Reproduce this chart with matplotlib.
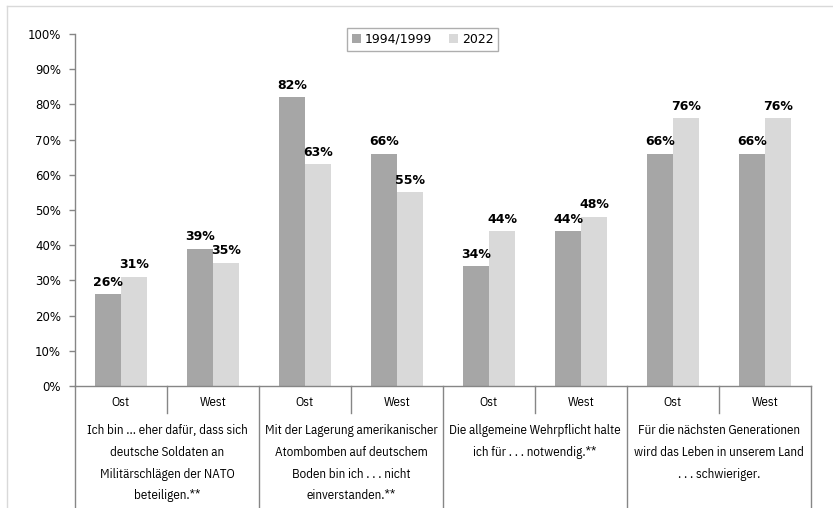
import matplotlib
matplotlib.use("Agg")
import matplotlib.pyplot as plt
import matplotlib.transforms as mtransforms
from matplotlib.lines import Line2D

# Survey results (share of respondents, %)
regions = ["Ost", "West", "Ost", "West", "Ost", "West", "Ost", "West"]
questions = [
    "Ich bin ... eher dafür, dass sich\ndeutsche Soldaten an\nMilitärschlägen der NATO\nbeteiligen.**",
    "Mit der Lagerung amerikanischer\nAtombomben auf deutschem\nBoden bin ich . . . nicht\neinverstanden.**",
    "Die allgemeine Wehrpflicht halte\nich für . . . notwendig.**",
    "Für die nächsten Generationen\nwird das Leben in unserem Land\n. . . schwieriger.",
]
series_names = ["1994/1999", "2022"]
values_old = [26, 39, 82, 66, 34, 44, 66, 66]
values_new = [31, 35, 63, 55, 44, 48, 76, 76]
y_ticks = [0, 10, 20, 30, 40, 50, 60, 70, 80, 90, 100]

DARK = "#a6a6a6"
LIGHT = "#d9d9d9"
AXIS = "#868686"
BORDER = "#d9d9d9"

W, H = 833, 508
fig = plt.figure(figsize=(W / 100, H / 100), dpi=100)
fig.patch.set_facecolor("white")

# Axes placement in pixels
left, right, top, bottom = 75, 811, 34, 386
ax = fig.add_axes([left / W, 1 - bottom / H, (right - left) / W, (bottom - top) / H])

n = len(regions)
x = list(range(n))
bw = 0.283
ax.bar([i - bw / 2 for i in x], values_old, width=bw, color=DARK, label=series_names[0], zorder=2)
ax.bar([i + bw / 2 for i in x], values_new, width=bw, color=LIGHT, label=series_names[1], zorder=2)

label_font = dict(family="DejaVu Sans", weight="bold", size=9, color="black")
for i, v in enumerate(values_old):
    ax.annotate(f"{v}%", (i - bw / 2, v), xytext=(0, 4), textcoords="offset points",
                ha="center", va="bottom", **label_font)
for i, v in enumerate(values_new):
    ax.annotate(f"{v}%", (i + bw / 2, v), xytext=(0, 4), textcoords="offset points",
                ha="center", va="bottom", **label_font)

ax.set_xlim(-0.5, n - 0.5)
ax.set_ylim(0, 100)
ax.set_yticks(y_ticks)
ax.set_yticklabels([f"{t}%" for t in y_ticks], family="DejaVu Sans", fontsize=8.5)
ax.tick_params(axis="y", length=4, color=AXIS, width=1, pad=6)
ax.set_xticks([])
for s in ["top", "right"]:
    ax.spines[s].set_visible(False)
for s in ["left", "bottom"]:
    ax.spines[s].set_color(AXIS)
    ax.spines[s].set_linewidth(1)

# Multi-level category axis below the plot
trans = mtransforms.blended_transform_factory(ax.transData, fig.transFigure)
y_axis = 1 - bottom / H
y_sub = 1 - 413 / H
for k in range(len(questions) + 1):
    xb = 2 * k - 0.5
    fig.add_artist(Line2D([xb, xb], [y_axis, 0], transform=trans, color=AXIS, lw=1))
for k in range(len(questions)):
    xs = 2 * k + 0.5
    fig.add_artist(Line2D([xs, xs], [y_axis, y_sub], transform=trans, color=AXIS, lw=1))

cat_font = dict(family=["IBM Plex Sans Condensed", "DejaVu Sans"], weight="normal",
                size=9.4, color="black")
for i, r in enumerate(regions):
    fig.text(i, 1 - 403 / H, r, transform=trans, ha="center", va="center", **cat_font)
for k, q in enumerate(questions):
    fig.text(2 * k + 0.5, 1 - 424 / H, q, transform=trans, ha="center", va="top",
             linespacing=1.88, **cat_font)

# Legend
leg = ax.legend(loc="upper left", bbox_to_anchor=((347 - left) / (right - left), (bottom - 28) / (bottom - top)),
                borderaxespad=0, ncol=2, frameon=True, fancybox=False, handlelength=0.7,
                handleheight=0.7, handletextpad=0.3, columnspacing=1.4, borderpad=0.4,
                prop=dict(family="DejaVu Sans", size=9))
leg.get_frame().set_edgecolor("#9a9a9a")
leg.get_frame().set_linewidth(1)

# Chart area border
fig.add_artist(Line2D([7 / W, 7 / W], [0, 1 - 6 / H], transform=fig.transFigure, color=BORDER, lw=1))
fig.add_artist(Line2D([7 / W, 1], [1 - 6 / H, 1 - 6 / H], transform=fig.transFigure, color=BORDER, lw=1))

fig.savefig("out.png", dpi=100)
